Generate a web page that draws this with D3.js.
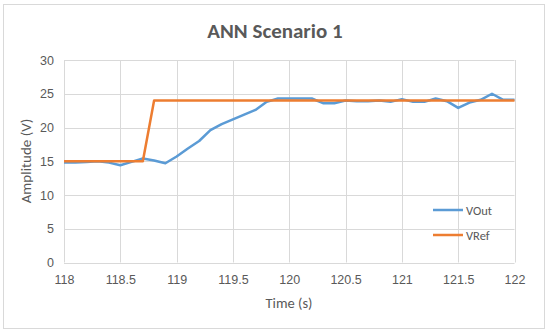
<!DOCTYPE html>
<html><head><meta charset="utf-8">
<script src="https://cdn.jsdelivr.net/npm/d3@7"></script>
<style>body{margin:0;background:#fff;}svg{display:block;font-family:Calibri,Carlito,Lato,"Open Sans",sans-serif;}</style>
</head><body>
<svg id="c" width="550" height="335"></svg>
<script>
const timeVals = [118,118.1,118.2,118.3,118.4,118.5,118.6,118.7,118.8,118.9,119,119.1,119.2,119.3,119.4,119.5,119.6,119.7,119.8,119.9,120,120.1,120.2,120.3,120.4,120.5,120.6,120.7,120.8,120.9,121,121.1,121.2,121.3,121.4,121.5,121.6,121.7,121.8,121.9,122];
const vOut = [14.8,14.8,14.9,15.0,14.8,14.4,14.9,15.4,15.1,14.7,15.7,16.9,18.0,19.6,20.5,21.2,21.9,22.6,23.8,24.3,24.3,24.3,24.3,23.6,23.6,24.0,23.9,23.9,24.0,23.8,24.2,23.8,23.8,24.3,23.9,22.9,23.7,24.1,25.0,24.1,24.1];
const refTime = [118,118.7,118.8,122];
const vRef = [15,15,24,24];
const xTicks = [118,118.5,119,119.5,120,120.5,121,121.5,122];
const yTicks = [0,5,10,15,20,25,30];
const seriesNames = ["VOut","VRef"];
const colors = ["#5B9BD5","#ED7D31"];

const svg = d3.select("#c");
svg.append("rect").attr("x",3.5).attr("y",4.5).attr("width",541).attr("height",324)
  .attr("fill","#fff").attr("stroke","#d9d9d9");

const x = d3.scaleLinear().domain([118,122]).range([64,514.5]);
const y = d3.scaleLinear().domain([0,30]).range([262.5,60]);

// gridlines
svg.append("g").selectAll("line").data(yTicks).join("line")
  .attr("x1",x(118)).attr("x2",x(122)).attr("y1",d=>Math.round(y(d))+0.5).attr("y2",d=>Math.round(y(d))+0.5)
  .attr("stroke","#d9d9d9").attr("stroke-width",1);
svg.append("g").selectAll("line").data(xTicks).join("line")
  .attr("y1",y(0)).attr("y2",y(30)).attr("x1",d=>Math.round(x(d))+0.5).attr("x2",d=>Math.round(x(d))+0.5)
  .attr("stroke","#d9d9d9").attr("stroke-width",1);

// axes (labels only)
const xa = svg.append("g").attr("transform",`translate(0,${y(0)})`)
  .call(d3.axisBottom(x).tickValues(xTicks).tickSize(0).tickPadding(13).tickFormat(d3.format("")));
xa.select(".domain").remove();
xa.selectAll("text").attr("fill","#595959").style("font-size","12.5px");
const ya = svg.append("g").attr("transform",`translate(${x(118)},0)`)
  .call(d3.axisLeft(y).tickValues(yTicks).tickSize(0).tickPadding(10));
ya.select(".domain").remove();
ya.selectAll("text").attr("fill","#595959").style("font-size","12.5px");

// lines
const line = d3.line().x(d=>x(d[0])).y(d=>y(d[1]));
svg.append("path").datum(timeVals.map((t,i)=>[t,vOut[i]])).attr("d",line)
  .attr("fill","none").attr("stroke",colors[0]).attr("stroke-width",2.5).attr("stroke-linejoin","round");
svg.append("path").datum(refTime.map((t,i)=>[t,vRef[i]])).attr("d",line)
  .attr("fill","none").attr("stroke",colors[1]).attr("stroke-width",2.5).attr("stroke-linejoin","round");

// title
svg.append("text").attr("x",275).attr("y",38).attr("text-anchor","middle")
  .attr("fill","#595959").style("font-size","21px").style("font-weight","bold").text("ANN Scenario 1");
// axis titles
svg.append("text").attr("x",289).attr("y",308).attr("text-anchor","middle")
  .attr("fill","#595959").style("font-size","14.5px").text("Time (s)");
svg.append("text").attr("transform","translate(31,161) rotate(-90)").attr("text-anchor","middle")
  .attr("fill","#595959").style("font-size","15px").text("Amplitude (V)");

// legend
const lg = svg.append("g");
seriesNames.forEach((n,i)=>{
  const yy = 210 + i*25;
  lg.append("line").attr("x1",433).attr("x2",463).attr("y1",yy).attr("y2",yy)
    .attr("stroke",colors[i]).attr("stroke-width",2.5);
  lg.append("text").attr("x",466).attr("y",yy+4.5).attr("fill","#595959")
    .style("font-size","12.5px").text(n);
});
</script>
</body></html>
